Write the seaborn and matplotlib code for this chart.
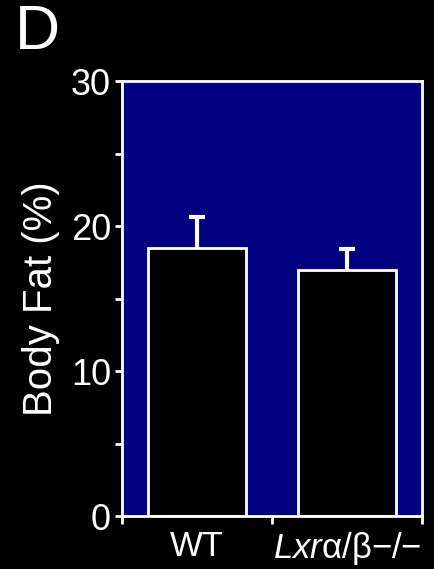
import matplotlib
matplotlib.use("Agg")
import matplotlib.pyplot as plt
import seaborn as sns
import pandas as pd

groups = ["WT", "Lxr"]
tick_labels = ["WT", r"$\mathit{Lxr}$" + "\u03b1/\u03b2\u2212/\u2212"]
body_fat = [18.5, 17.0]
sem = [2.1, 1.4]

sns.set_style("dark")
plt.rcParams["font.family"] = ["Liberation Sans", "DejaVu Sans"]
plt.rcParams["mathtext.fontset"] = "custom"
plt.rcParams["mathtext.it"] = "Liberation Sans:italic"
plt.rcParams["mathtext.rm"] = "Liberation Sans"

df = pd.DataFrame({"group": groups, "fat": body_fat})

fig = plt.figure(figsize=(4.35, 5.69), dpi=100, facecolor="black")
ax = fig.add_axes([0.2805, 0.0931, 0.6895, 0.7645])
ax.set_facecolor("#000080")

sns.barplot(data=df, x="group", y="fat", ax=ax, color="black",
            edgecolor="white", linewidth=2, width=0.65, errorbar=None,
            saturation=1)
eb = ax.errorbar(range(len(groups)), body_fat, yerr=[[0] * len(sem), sem],
                 fmt="none", ecolor="white", elinewidth=3, capsize=6,
                 capthick=3, zorder=1)
# only the upper whisker cap is shown
eb[1][0].set_visible(False)

ax.set_xlim(-0.5, 1.5)
ax.set_ylim(0, 30)
ax.set_yticks([0, 10, 20, 30])
ax.set_yticks([5, 15, 25], minor=True)
ax.set_xticks([-0.5, 0.5, 1.5])
ax.set_xticklabels([])
ax.set_xticks([0, 1], minor=True)
ax.set_xticklabels(tick_labels, minor=True)

ax.grid(False)
for s in ax.spines.values():
    s.set_visible(True)
    s.set_color("white")
    s.set_linewidth(2)

ax.tick_params(axis="y", which="both", direction="out", length=5, width=2,
               color="white", labelcolor="white", labelsize=26, pad=3,
               left=True)
ax.tick_params(axis="x", which="major", direction="out", length=6, width=2,
               color="white", bottom=True)
ax.tick_params(axis="x", which="minor", length=0, labelcolor="white",
               labelsize=25, pad=10)

ax.set_xlabel("")
ax.set_ylabel("Body Fat (%)", color="white", fontsize=29, labelpad=8)

fig.text(0.035, 0.995, "D", color="white", fontsize=45, ha="left", va="top")

fig.savefig("out.png", dpi=100, facecolor="black")
